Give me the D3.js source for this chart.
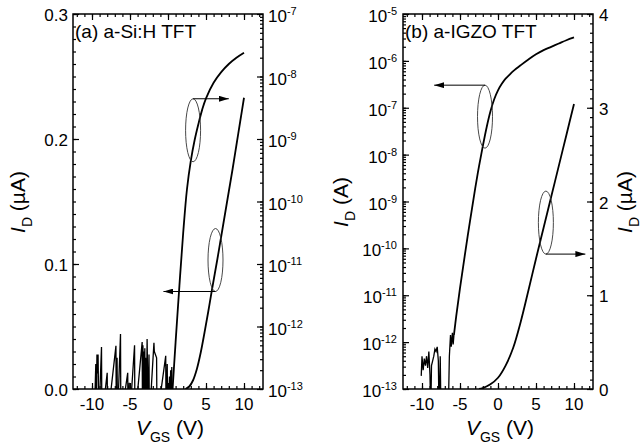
<!DOCTYPE html>
<html lang="en">
  <head>
    <meta charset="UTF-8" />
    <title>a-Si:H vs a-IGZO TFT transfer curves</title>
    <style>
      body {
        margin: 0;
        background: #fff;
        font-family: "Liberation Sans", Arial, sans-serif;
      }
      svg text { fill: #000; }
    </style>
    <script src="https://d3js.org/d3.v7.min.js"></script>
  </head>
  <body>
  </body>
  <script>
    // gate voltage ticks, shared by both panels
    const vgsDomain = [-12.5, 12.5]
    const vgsTicks = [-10, -5, 0, 5, 10]

    // (a) a-Si:H  -- linear current in uA (left axis), log10 of current in A (right axis)
    const aLinTicks = [0.0, 0.1, 0.2, 0.3]
    const aLogExps = [-13, -12, -11, -10, -9, -8, -7]
    const aLinCurve = [[2.3,0],[2.8,0.002],[3.3,0.007],[3.8,0.016],[4.3,0.029],[4.8,0.045],[5.3,0.062],
      [5.8,0.08],[6.5,0.104],[7.0,0.122],[7.5,0.14],[8.0,0.158],[8.5,0.176],[9.0,0.195],[9.5,0.214],[10.0,0.233]]
    const aLogCurve = [[0.55,-13.1],[1.0,-12.25],[1.5,-11.35],[2.0,-10.5],[2.5,-9.8],[3.0,-9.35],[3.5,-9.02],
      [4.0,-8.76],[4.5,-8.53],[5.0,-8.35],[6.0,-8.1],[7.0,-7.93],[8.0,-7.8],[9.0,-7.7],[10.0,-7.62]]
    const aLogNoise = [[-9.7,-13.5],[-9.5,-12.6],[-9.45,-13.5],[-9.35,-12.45],[-9.3,-12.75],[-9.2,-12.45],[-9.1,-13.5],
      [-8.75,-12.33],[-8.7,-13.5],[-8.0,-12.74],[-7.95,-13.5],[-6.85,-12.31],[-6.8,-13.5],[-6.7,-12.5],[-6.65,-13.5],
      [-6.25,-12.12],[-6.2,-13.5],[-5.3,-12.74],[-5.25,-13.5],[-5.1,-12.9],[-5.05,-13.5],[-4.4,-12.3],[-4.35,-13.5],
      [-3.4,-12.25],[-3.35,-13.5],[-3.3,-12.3],[-3.2,-13.5],[-3.15,-12.4],[-3.1,-13.5],[-3.05,-12.35],[-3.0,-13.5],
      [-2.95,-12.5],[-2.85,-13.5],[-2.75,-12.2],[-2.7,-12.6],[-2.6,-13.5],[-2.5,-12.45],[-2.45,-13.5],
      [-1.85,-12.26],[-1.8,-12.4],[-1.5,-12.5],[-1.45,-13.5],[-0.3,-12.47],[-0.25,-13.5],[-0.1,-12.6],[-0.05,-13.5],
      [0.2,-12.8],[0.25,-13.5],[0.35,-12.7],[0.4,-13.5],[0.5,-12.65],[0.55,-13.1]]

    // (b) a-IGZO  -- log10 of current in A (left axis), linear current in uA (right axis)
    const bLogExps = [-13, -12, -11, -10, -9, -8, -7, -6, -5]
    const bLinTicks = [0, 1, 2, 3, 4]
    const bLogCurve = [[-5.8,-11.85],[-5.5,-11.45],[-5.0,-10.85],[-4.0,-9.75],[-3.0,-8.72],[-2.5,-8.25],[-2.0,-7.82],
      [-1.5,-7.42],[-1.0,-7.08],[-0.5,-6.82],[0,-6.63],[0.5,-6.49],[1.0,-6.38],[1.5,-6.3],[2.0,-6.22],[3.0,-6.09],
      [4.0,-5.97],[5.0,-5.86],[6.0,-5.77],[7.0,-5.7],[8.0,-5.63],[9.0,-5.56],[10.0,-5.5]]
    const bLogNoise = [[-10.1,-12.72],[-10.0,-12.3],[-9.85,-12.6],[-9.7,-12.35],[-9.55,-12.5],[-9.4,-12.3],[-9.25,-12.55],
      [-9.1,-12.2],[-8.95,-12.7],[-8.85,-13.6],[-8.75,-12.5],[-8.6,-12.4],[-8.45,-12.3],[-8.3,-12.15],[-8.15,-12.2],
      [-8.0,-12.1],[-7.85,-12.4],[-7.75,-13.6],[-7.6,-12.3],[-7.5,-13.6],[-6.55,-13.6],[-6.4,-12.3],[-6.25,-11.85],
      [-6.15,-12.1],[-6.0,-11.8],[-5.9,-12.05],[-5.8,-11.85]]
    const bLinCurve = [[-2.5,0],[-2,0.01],[-1,0.05],[0,0.12],[1,0.25],[2,0.44],[3,0.72],[4,1.05],[5,1.39],
      [6,1.72],[7,2.05],[8,2.38],[9,2.71],[10,3.04]]

    // ellipse markers: [vgs, value on the axis the arrow points to, arrow end vgs]
    const aMarks = [{ v: 3.3, y: -8.86, axis: "log", to: 8.0, side: "top" },
                    { v: 6.25, y: 0.1032, axis: "lin", to: -0.6, side: "bottom" }]
    const bMarks = [{ v: -1.71, y: -7.19, axis: "log", to: -8.4, side: "top" },
                    { v: 6.3, y: 1.775, axis: "lin", to: 11.5, side: "bottom" }]

    const W = 644, H = 447
    const FONT = "'Liberation Sans', Arial, sans-serif"

    const svg = d3.select("body").append("svg")
        .attr("width", W)
        .attr("height", H)

    const defs = svg.append("defs")
    defs.append("marker")
        .attr("id", "head")
        .attr("viewBox", "0 0 10 6")
        .attr("refX", 10).attr("refY", 3)
        .attr("markerWidth", 10).attr("markerHeight", 6)
        .attr("markerUnits", "userSpaceOnUse")
        .attr("orient", "auto")
      .append("path")
        .attr("d", "M0,0 L10,3 L0,6 Z")
        .attr("fill", "#000")

    function sciLabel(sel, exp) {
      sel.append("tspan").text("10")
      sel.append("tspan").text(exp).attr("font-size", "11px").attr("dy", "-7")
    }

    function drawPanel(p) {
      const x = d3.scaleLinear().domain(vgsDomain).range([p.left, p.right])
      const yLin = d3.scaleLinear().domain(p.linDomain).range([p.bottom, p.top])
      const yLog = d3.scaleLog().domain(p.logDomain).range([p.bottom, p.top])
      const g = svg.append("g")

      defs.append("clipPath").attr("id", "clip-" + p.id)
        .append("rect")
          .attr("x", p.left).attr("y", p.top)
          .attr("width", p.right - p.left).attr("height", p.bottom - p.top)

      // tick helper: ticks point into the box
      function ticks(axisFn, scale, values, len, tr) {
        g.append("g")
          .attr("transform", tr)
          .call(axisFn(scale).tickValues(values).tickSize(-len).tickFormat(""))
          .call(s => s.select(".domain").remove())
          .selectAll("line").attr("stroke", "#000").attr("stroke-width", 1.2)
      }

      const vMinor = d3.range(-12, 13, 1)
      ticks(d3.axisBottom, x, vMinor, 3, `translate(0,${p.bottom})`)
      ticks(d3.axisBottom, x, vgsTicks, 6, `translate(0,${p.bottom})`)
      ticks(d3.axisTop, x, vMinor, 3, `translate(0,${p.top})`)
      ticks(d3.axisTop, x, vgsTicks, 6, `translate(0,${p.top})`)

      const linMinor = d3.range(p.linDomain[0], p.linDomain[1] + p.linStep / 2, p.linStep)
      const logMajor = p.logExps.map(e => Math.pow(10, e))
      const logMinor = yLog.ticks()
      const linAxis = p.linSide === "left" ? d3.axisLeft : d3.axisRight
      const logAxis = p.linSide === "left" ? d3.axisRight : d3.axisLeft
      const linX = p.linSide === "left" ? p.left : p.right
      const logX = p.linSide === "left" ? p.right : p.left
      ticks(linAxis, yLin, linMinor, 3, `translate(${linX},0)`)
      ticks(linAxis, yLin, p.linTicks, 6, `translate(${linX},0)`)
      ticks(logAxis, yLog, logMinor, 3, `translate(${logX},0)`)
      ticks(logAxis, yLog, logMajor, 6, `translate(${logX},0)`)

      g.append("rect")
        .attr("x", p.left).attr("y", p.top)
        .attr("width", p.right - p.left).attr("height", p.bottom - p.top)
        .attr("fill", "none").attr("stroke", "#000").attr("stroke-width", 1.5)

      // tick labels
      g.append("g").selectAll("text").data(vgsTicks).join("text")
        .attr("x", d => x(d)).attr("y", p.bottom + 21)
        .attr("text-anchor", "middle")
        .attr("font-size", "17px").attr("font-family", FONT)
        .text(d => d < 0 ? "-" + Math.abs(d) : d)

      const linLabelX = p.linSide === "left" ? p.left - 5 : p.right + 6
      g.append("g").selectAll("text").data(p.linTicks).join("text")
        .attr("x", linLabelX).attr("y", d => yLin(d) + 7)
        .attr("text-anchor", p.linSide === "left" ? "end" : "start")
        .attr("font-size", "17px").attr("font-family", FONT)
        .text(d => p.linFmt(d))

      const logLabelX = p.linSide === "left" ? p.right + 5 : p.left - 6
      g.append("g").selectAll("text").data(p.logExps).join("text")
        .attr("x", logLabelX).attr("y", d => yLog(Math.pow(10, d)) + 8)
        .attr("text-anchor", p.linSide === "left" ? "start" : "end")
        .attr("font-size", "17px").attr("font-family", FONT)
        .each(function (d) { sciLabel(d3.select(this), d) })

      // curves
      const plot = g.append("g").attr("clip-path", `url(#clip-${p.id})`)
      const linLine = d3.line().curve(d3.curveCatmullRom.alpha(0.5))
        .x(d => x(d[0])).y(d => yLin(d[1]))
      const logLine = d3.line().curve(d3.curveCatmullRom.alpha(0.5))
        .x(d => x(d[0])).y(d => yLog(Math.pow(10, d[1])))
      const noiseLine = d3.line()
        .x(d => x(d[0])).y(d => yLog(Math.pow(10, d[1])))

      plot.append("path").attr("d", noiseLine(p.logNoise))
        .attr("fill", "none").attr("stroke", "#000").attr("stroke-width", 1.3)
      plot.append("path").attr("d", logLine(p.logCurve))
        .attr("fill", "none").attr("stroke", "#000").attr("stroke-width", 1.8)
      plot.append("path").attr("d", linLine(p.linCurve))
        .attr("fill", "none").attr("stroke", "#000").attr("stroke-width", 1.8)

      // ellipse + arrow markers
      p.marks.forEach(m => {
        const cx = x(m.v)
        const cy = m.axis === "log" ? yLog(Math.pow(10, m.y)) : yLin(m.y)
        const rx = 7.5, ry = 31.5
        const ay = m.side === "top" ? cy - ry : cy + ry
        g.append("ellipse")
          .attr("cx", cx).attr("cy", cy).attr("rx", rx).attr("ry", ry)
          .attr("fill", "none").attr("stroke", "#333").attr("stroke-width", 0.9)
        g.append("line")
          .attr("x1", cx).attr("y1", ay).attr("x2", x(m.to)).attr("y2", ay)
          .attr("stroke", "#000").attr("stroke-width", 1)
          .attr("marker-end", "url(#head)")
      })

      // panel label
      g.append("text")
        .attr("x", p.left + 2).attr("y", p.top + 24)
        .attr("font-size", "19px").attr("font-family", FONT)
        .text(p.label)

      // x title
      const xt = g.append("text")
        .attr("x", (p.left + p.right) / 2 + 2).attr("y", 435)
        .attr("text-anchor", "middle")
        .attr("font-size", "21px").attr("font-family", FONT)
      xt.append("tspan").text("V").attr("font-style", "italic")
      xt.append("tspan").text("GS").attr("font-size", "14px").attr("dy", 7)
      xt.append("tspan").text(" (V)").attr("dy", -7)

      // y titles
      p.titles.forEach(t => {
        const yt = g.append("text")
          .attr("transform", `translate(${t.x},${t.y}) rotate(-90)`)
          .attr("text-anchor", "middle")
          .attr("font-size", "21px").attr("font-family", FONT)
        yt.append("tspan").text("I").attr("font-style", "italic")
        yt.append("tspan").text("D").attr("font-size", "14px").attr("dy", 7)
        yt.append("tspan").text(t.unit).attr("dy", -7)
      })
    }

    drawPanel({
      id: "a", label: "(a) a-Si:H TFT",
      left: 73, right: 263, top: 14, bottom: 389,
      linSide: "left", linDomain: [0, 0.3], linStep: 0.01, linTicks: aLinTicks,
      linFmt: d => d.toFixed(1),
      logDomain: [1e-13, 1e-7], logExps: aLogExps,
      linCurve: aLinCurve, logCurve: aLogCurve, logNoise: aLogNoise,
      marks: aMarks,
      titles: [{ x: 25, y: 202, unit: " (\u00b5A)" }]
    })

    drawPanel({
      id: "b", label: "(b) a-IGZO TFT",
      left: 403, right: 593, top: 14, bottom: 389,
      linSide: "right", linDomain: [0, 4], linStep: 0.1, linTicks: bLinTicks,
      linFmt: d => d,
      logDomain: [1e-13, 1e-5], logExps: bLogExps,
      linCurve: bLinCurve, logCurve: bLogCurve, logNoise: bLogNoise,
      marks: bMarks,
      titles: [{ x: 348, y: 202, unit: " (A)" }, { x: 632, y: 202, unit: " (\u00b5A)" }]
    })
  </script>
</html>
